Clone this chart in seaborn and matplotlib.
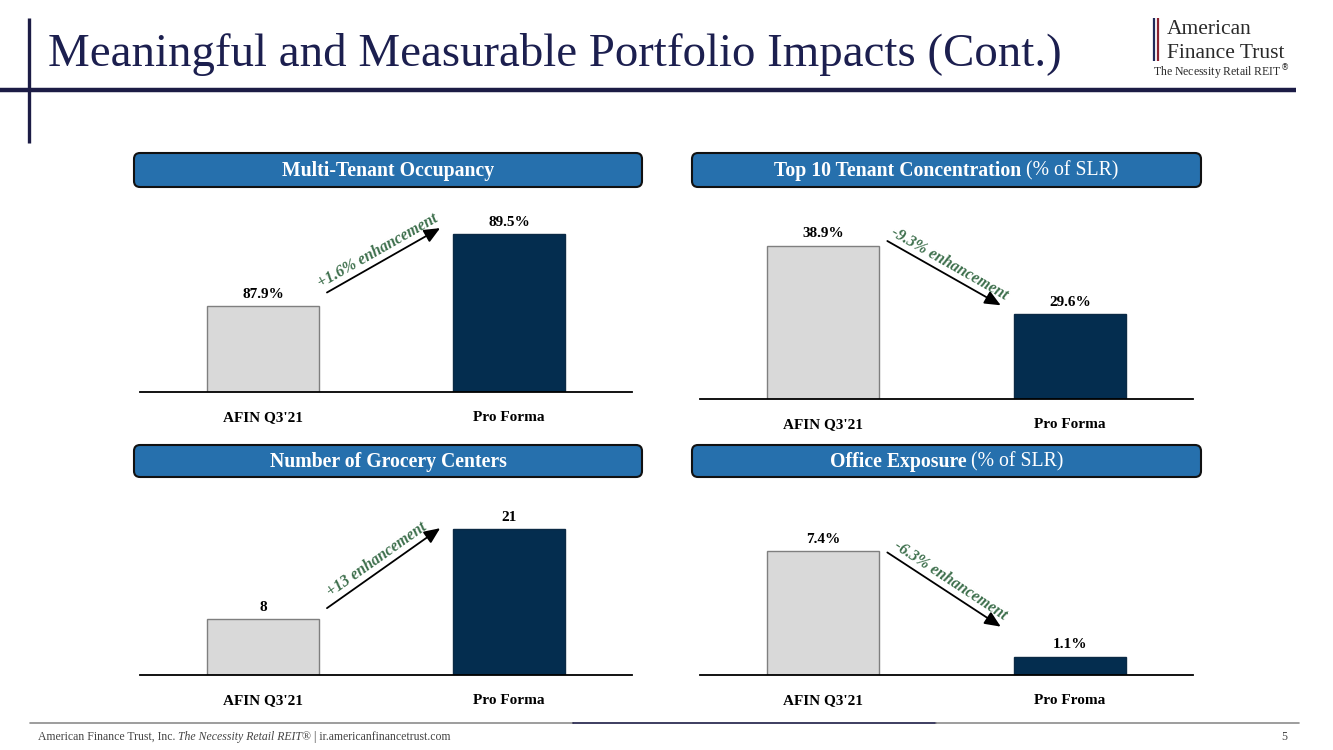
import numpy as np
import matplotlib
matplotlib.use("Agg")
import matplotlib.pyplot as plt
import seaborn as sns
from matplotlib.patches import FancyBboxPatch

sns.set_theme(style="white")
plt.rcParams['font.family'] = ['Liberation Serif', 'DejaVu Serif']

W, H = 1333, 750

# ---- data ----
cats_main = ["AFIN Q3'21", "Pro Forma"]
cats_office = ["AFIN Q3'21", "Pro Froma"]
occupancy = [87.9, 89.5]
top10_concentration = [38.9, 29.6]
grocery_centers = [8, 21]
office_exposure = [7.4, 1.1]

titles_bold = ["Multi-Tenant Occupancy", "Top 10 Tenant Concentration",
               "Number of Grocery Centers", "Office Exposure"]
titles_plain = ["", " (% of SLR)", "", " (% of SLR)"]

# colours
GRAY = "#d9d9d9"
NAVY = "#042d4f"
BOX_BLUE = "#2670ad"
GREEN = "#3d6f4c"
RULE = "#1c1c45"

fig = plt.figure(figsize=(W / 100, H / 100), dpi=100)


def px_rect(left, baseline, width, height):
    # pixel rectangle (from top-left) -> figure fraction
    return [left / W, (H - baseline) / H, width / W, height / H]


# layout per panel: axes rect, y-limits, header box, arrow offsets (px above bar tops)
panels = [
    dict(vals=occupancy, cats=cats_main, pct=True, rect=(140, 392, 492, 190),
         ylim=(86.01, 90.21), box=(134, 153, 642, 187), arrow_off=(14, 6)),
    dict(vals=top10_concentration, cats=cats_main, pct=True, rect=(700, 399, 493, 190),
         ylim=(18.06, 43.94), box=(692, 153, 1201, 187), arrow_off=(5, 9)),
    dict(vals=grocery_centers, cats=cats_main, pct=False, rect=(140, 674.5, 492, 190),
         ylim=(0, 27.46), box=(134, 445, 642, 477), arrow_off=(11, 1)),
    dict(vals=office_exposure, cats=cats_office, pct=True, rect=(700, 675, 493, 190),
         ylim=(0, 11.38), box=(692, 445, 1201, 477), arrow_off=(-1, 30)),
]

chart_axes = []
for p in panels:
    ax = fig.add_axes(px_rect(*p["rect"]))
    ax.set_facecolor("none")
    sns.barplot(x=p["cats"], y=p["vals"], hue=p["cats"], palette=[GRAY, NAVY],
                legend=False, width=0.455, ax=ax, saturation=1)
    for bar, ec in zip(ax.patches, ["#7f7f7f", "#0b2a45"]):
        bar.set_edgecolor(ec)
        bar.set_linewidth(1.0)
    ax.set_xlim(-0.5, 1.5)
    ax.set_ylim(*p["ylim"])
    sns.despine(ax=ax, left=True)
    ax.spines["bottom"].set_color("black")
    ax.spines["bottom"].set_linewidth(1.3)
    ax.set_yticks([])
    ax.tick_params(axis="x", length=0, pad=14)
    for lab in ax.get_xticklabels():
        lab.set_fontweight("bold")
        lab.set_fontsize(11)
        lab.set_color("black")
    for cont, v in zip(ax.containers, p["vals"]):
        txt = f"{v:.1f}%" if p["pct"] else f"{v:d}"
        ax.bar_label(cont, labels=[txt], padding=4, fontsize=11,
                     fontweight="bold", color="black")
    chart_axes.append(ax)

# overlay in pixel coordinates (y down) for slide decorations
bg = fig.add_axes([0, 0, 1, 1])
bg.set_xlim(0, W)
bg.set_ylim(H, 0)
bg.axis("off")
renderer = fig.canvas.get_renderer()


def text_runs(x, y, runs, ha="center", **kw):
    objs = [bg.text(0, y, s, ha="left", va="center", **props, **kw) for s, props in runs]
    widths = [t.get_window_extent(renderer).width for t in objs]
    start = x - sum(widths) / 2 if ha == "center" else x
    for t, w in zip(objs, widths):
        t.set_x(start)
        start += w
    return objs


# title and rules
title = bg.text(48, 66, "Meaningful and Measurable Portfolio Impacts (Cont.)",
                fontsize=30, color="#1c1f4f", ha="left", va="baseline")
tw = title.get_window_extent(renderer).width
title.set_fontsize(30 * 1014 / tw)
bg.plot([0, 1296], [90, 90], color=RULE, lw=3.2, solid_capstyle="butt")
bg.plot([29, 29], [18, 143], color=RULE, lw=2.4, solid_capstyle="butt")

# logo
bg.plot([1154, 1154], [18, 61], color="#1f2a5a", lw=1.6, solid_capstyle="butt")
bg.plot([1158, 1158], [18, 61], color="#8b2332", lw=1.6, solid_capstyle="butt")
bg.text(1167, 29, "American", fontsize=15.5, color="#2a2a2a", ha="left", va="center")
bg.text(1167, 53, "Finance Trust", fontsize=15.5, color="#2a2a2a", ha="left", va="center")
bg.text(1153, 72, "The Necessity Retail REIT$^{\u00ae}$", fontsize=8.5, color="#2a2a2a",
        ha="left", va="center")

# footer
bg.plot([30, 573], [723, 723], color="#8c8c8c", lw=1.2)
bg.plot([573, 936], [723, 723], color=RULE, lw=1.2)
bg.plot([936, 1299], [723, 723], color="#8c8c8c", lw=1.2)
text_runs(38, 737, [("American Finance Trust, Inc. ", {}),
                    ("The Necessity Retail REIT\u00ae", {"style": "italic"}),
                    (" | ir.americanfinancetrust.com", {})],
          ha="left", fontsize=8.5, color="#444444")
bg.text(1287, 737, "5", fontsize=8.5, color="#444444", ha="right", va="center")

# header boxes
for p, tb, tp in zip(panels, titles_bold, titles_plain):
    x0, y0, x1, y1 = p["box"]
    bg.add_patch(FancyBboxPatch((x0, y0), x1 - x0, y1 - y0,
                                boxstyle="round,pad=0,rounding_size=6",
                                facecolor=BOX_BLUE, edgecolor="#111111", lw=1.5))
    runs = [(tb, {"fontweight": "bold"})]
    if tp:
        runs.append((tp, {}))
    text_runs((x0 + x1) / 2, (y0 + y1) / 2 + 1, runs, fontsize=14.2, color="white")

# change arrows with labels
for ax, p in zip(chart_axes, panels):
    v1, v2 = p["vals"]
    d = v2 - v1
    if p["pct"]:
        label = f"{d:+.1f}% enhancement"
    else:
        label = f"{d:+d} enhancement"
    o1, o2 = p["arrow_off"]
    tx, ty = ax.transData.transform((0.26, v1))
    hx, hy = ax.transData.transform((0.72, v2))
    ty += o1
    hy += o2
    bg.annotate("", xy=(hx, H - hy), xytext=(tx, H - ty),
                arrowprops=dict(arrowstyle="-|>,head_length=0.8,head_width=0.35",
                                color="black", lw=1.3, shrinkA=0, shrinkB=0))
    ang = np.degrees(np.arctan2(hy - ty, hx - tx))
    mx, my = (tx + hx) / 2, (ty + hy) / 2
    nx, ny = -np.sin(np.radians(ang)) * 3, np.cos(np.radians(ang)) * 3
    bg.text(mx + nx, H - (my + ny), label, rotation=ang, rotation_mode="anchor",
            ha="center", va="bottom", fontsize=11.5, fontweight="bold", style="italic",
            color=GREEN)

fig.savefig("out.png", dpi=100)
